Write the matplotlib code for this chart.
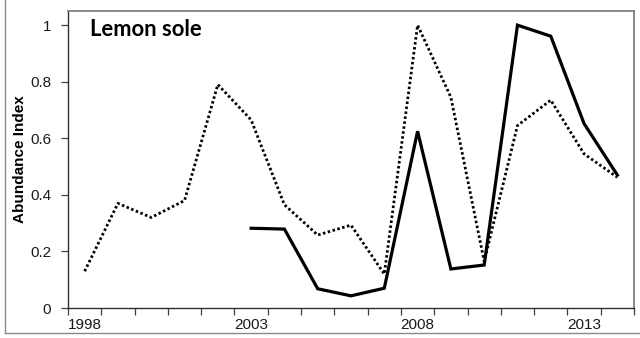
import matplotlib
matplotlib.use("Agg")
import matplotlib.pyplot as plt
from matplotlib.lines import Line2D

# Survey years and abundance indices for lemon sole
years = list(range(1998, 2015))
survey_a = [0.13, 0.37, 0.32, 0.38, 0.79, 0.665, 0.365, 0.258, 0.293, 0.12,
            1.0, 0.745, 0.165, 0.645, 0.735, 0.545, 0.462]
years_b = list(range(2003, 2015))
survey_b = [0.282, 0.279, 0.068, 0.043, 0.07, 0.625, 0.138, 0.152,
            1.0, 0.961, 0.652, 0.47]
year_labels = [1998, 2003, 2008, 2013]
y_ticks = [0, 0.2, 0.4, 0.6, 0.8, 1]
y_tick_labels = ["0", "0.2", "0.4", "0.6", "0.8", "1"]

fig = plt.figure(figsize=(6.4, 3.38), dpi=100)
W, H = 640, 338
ax = fig.add_axes([68 / W, 1 - 308 / H, (634 - 68) / W, (308 - 11) / H])

ax.plot(years, survey_a, color="black", lw=2.0, linestyle=(0, (0.9, 0.9)),
        dash_capstyle="butt", solid_joinstyle="miter")
ax.plot(years_b, survey_b, color="black", lw=2.3, solid_joinstyle="miter")

ax.set_xlim(1997.5, 2014.5)
ax.set_ylim(0, 1.05)

# Category-style axis: tick marks between years, labels on selected years
ax.set_xticks([1997.5 + k for k in range(18)])
ax.set_xticklabels([])
ax.set_xticks(year_labels, minor=True)
ax.set_xticklabels([str(y) for y in year_labels], minor=True)
ax.tick_params(axis="x", which="major", direction="out", length=5, width=0.9,
               color="#404040")
ax.tick_params(axis="x", which="minor", length=0, pad=7)
ax.set_yticks(y_ticks)
ax.set_yticklabels(y_tick_labels)
ax.tick_params(axis="y", direction="out", length=5, width=0.9, color="#404040",
               pad=7)

for lbl in ax.get_xticklabels(minor=True) + ax.get_yticklabels():
    lbl.set_fontfamily("Liberation Sans")
    lbl.set_fontsize(11)
    lbl.set_color("#1a1a1a")

for side in ("left", "bottom"):
    ax.spines[side].set_color("#303030")
    ax.spines[side].set_linewidth(1.0)
for side in ("top", "right"):
    ax.spines[side].set_color("#808080")
    ax.spines[side].set_linewidth(1.3)

ax.set_ylabel("Abundance Index", fontfamily="Liberation Sans", fontweight="bold",
              fontsize=11, labelpad=2)

ax.text(90 / W, 1 - 36 / H, "Lemon sole", transform=fig.transFigure,
        fontfamily="Lato", fontweight="bold", fontsize=15.8, ha="left",
        va="baseline", color="black")

# Outer chart frame
fig.add_artist(Line2D([5 / W, 5 / W], [1 - 333 / H, 1.0],
                      transform=fig.transFigure, color="#8a8a8a", lw=1.0))
fig.add_artist(Line2D([5 / W, 1.0], [1 - 333 / H, 1 - 333 / H],
                      transform=fig.transFigure, color="#8a8a8a", lw=1.0))

fig.savefig("out.png", dpi=100)
